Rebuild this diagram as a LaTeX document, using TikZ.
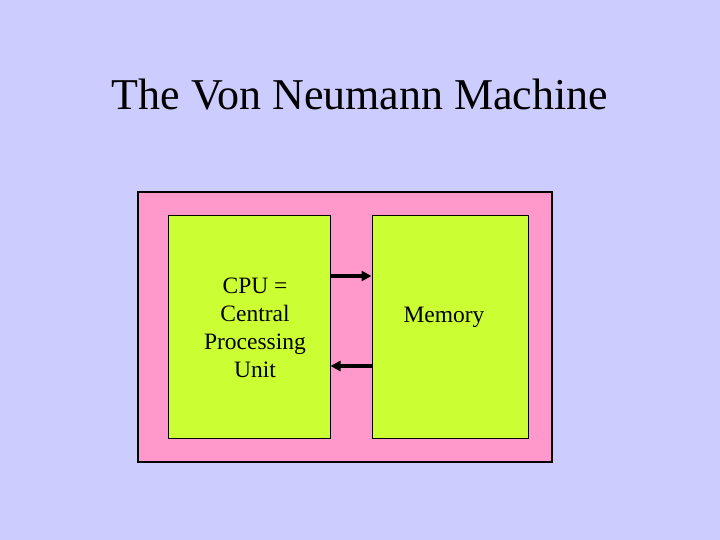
\documentclass[tikz,border=0pt]{standalone}
\usepackage{fontspec}
\setmainfont{Liberation Serif}
\usetikzlibrary{arrows.meta, positioning}
\definecolor{slidebg}{HTML}{CCCCFF}
\definecolor{frameFill}{HTML}{FF99CC}
\definecolor{unitFill}{HTML}{CCFF33}
\tikzset{
  frame/.style={draw=black, line width=1.5pt, fill=frameFill, inner sep=0pt},
  unit/.style={draw=black, line width=1pt, fill=unitFill, inner sep=0pt},
  lbl/.style={font=\fontsize{23.5}{28}\selectfont, align=center, inner sep=0pt},
  bus/.style={-{Triangle[length=10pt, width=10pt]}, line width=3.5pt, draw=black},
}

\begin{document}
\begin{tikzpicture}[x=1pt, y=-1pt]
  \useasboundingbox[fill=slidebg] (0,0) rectangle (720,540);
  % title
  \node[font=\fontsize{44}{50}\selectfont, anchor=base] (title) at (360,110) {The Von Neumann Machine};
  % machine
  \node[frame, minimum width=414pt, minimum height=270pt] (machine) at (345,327) {};
  \node[unit, minimum width=162pt, minimum height=222pt] (cpu) at (249,327) {};
  \node[unit, minimum width=156pt, minimum height=222pt] (mem) at (450,327) {};
  \node[lbl] (cpulabel) at (255,328) {CPU =\\Central\\Processing\\Unit};
  \node[lbl] (memlabel) at (444,317) {Memory};
  % data paths
  \draw[bus] (cpu.east |- 0,276) -- (mem.west |- 0,276);
  \draw[bus] (mem.west |- 0,366) -- (cpu.east |- 0,366);
\end{tikzpicture}
\end{document}
